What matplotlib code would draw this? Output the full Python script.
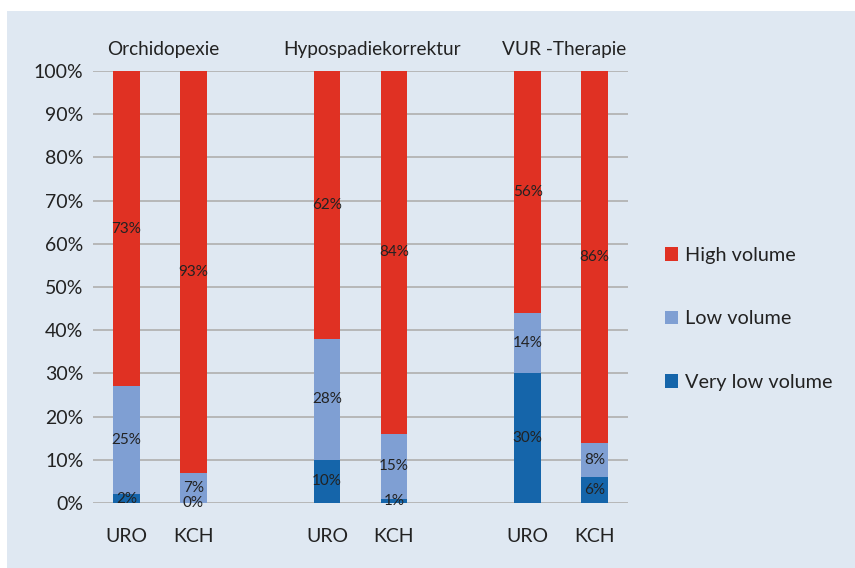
import matplotlib.pyplot as plt
from matplotlib.patches import Rectangle, Patch

plt.rcParams['font.family'] = ['Lato', 'DejaVu Sans']

# stacked shares (%) per bar, bottom to top
bar_labels = ['URO', 'KCH', 'URO', 'KCH', 'URO', 'KCH']
groups = ['Orchidopexie', 'Hypospadiekorrektur', 'VUR -Therapie']
very_low = [2, 0, 10, 1, 30, 6]
low = [25, 7, 28, 15, 14, 8]
high = [73, 93, 62, 84, 56, 86]

series = ['Very low volume', 'Low volume', 'High volume']
colors = ['#1565aa', '#7f9fd3', '#e03123']
bg = '#dfe8f2'
txt = '#222222'

xpos = [0, 1, 3, 4, 6, 7]
group_shift = [0.05, 0.18, 0.05]  # titles sit a bit right of the pair centre

fig = plt.figure(figsize=(8.55, 5.68), dpi=100)
fig.patches.append(Rectangle((7 / 855, 0), 1, 1 - 11 / 568, transform=fig.transFigure,
                             facecolor=bg, edgecolor='none', zorder=-10))
ax = fig.add_axes([93 / 855, 1 - 503 / 568, (628 - 93) / 855, (503 - 71) / 568])
ax.set_facecolor('none')

for y in range(0, 101, 10):
  ax.axhline(y, color='#b3b3b3', lw=1.3, zorder=0)

bottom = [0] * len(xpos)
for vals, col in zip([very_low, low, high], colors):
  ax.bar(xpos, vals, width=0.4, bottom=bottom, color=col, zorder=2)
  for x, b, v in zip(xpos, bottom, vals):
    ax.text(x, b + v / 2, f'{v}%', ha='center', va='center', fontsize=11, color=txt, zorder=3)
  bottom = [b + v for b, v in zip(bottom, vals)]

for i, g in enumerate(groups):
  ax.text(xpos[2 * i] + 0.5 + group_shift[i], 104.9, g, ha='center', va='center',
          fontsize=13.7, color=txt, clip_on=False)

ax.set_xlim(-0.5, 7.5)
ax.set_ylim(0, 100)
ax.set_yticks(range(0, 101, 10))
ax.set_yticklabels([f'{y}%' for y in range(0, 101, 10)], fontsize=14, color=txt)
ax.set_xticks(xpos)
ax.set_xticklabels(bar_labels, fontsize=14, color=txt)
ax.tick_params(axis='both', length=0)
ax.tick_params(axis='x', pad=18)
ax.tick_params(axis='y', pad=7)
for s in ax.spines.values():
  s.set_visible(False)

handles = [Patch(facecolor=c, edgecolor='none') for c in colors][::-1]
leg = fig.legend(handles, series[::-1], loc='center left', bbox_to_anchor=(647 / 855, 1 - 319 / 568),
                 frameon=False, fontsize=14.3, labelspacing=2.35, handlelength=0.68, handleheight=0.68,
                 handletextpad=0.35)
for t in leg.get_texts():
  t.set_color(txt)

fig.savefig('out.png', dpi=100)
